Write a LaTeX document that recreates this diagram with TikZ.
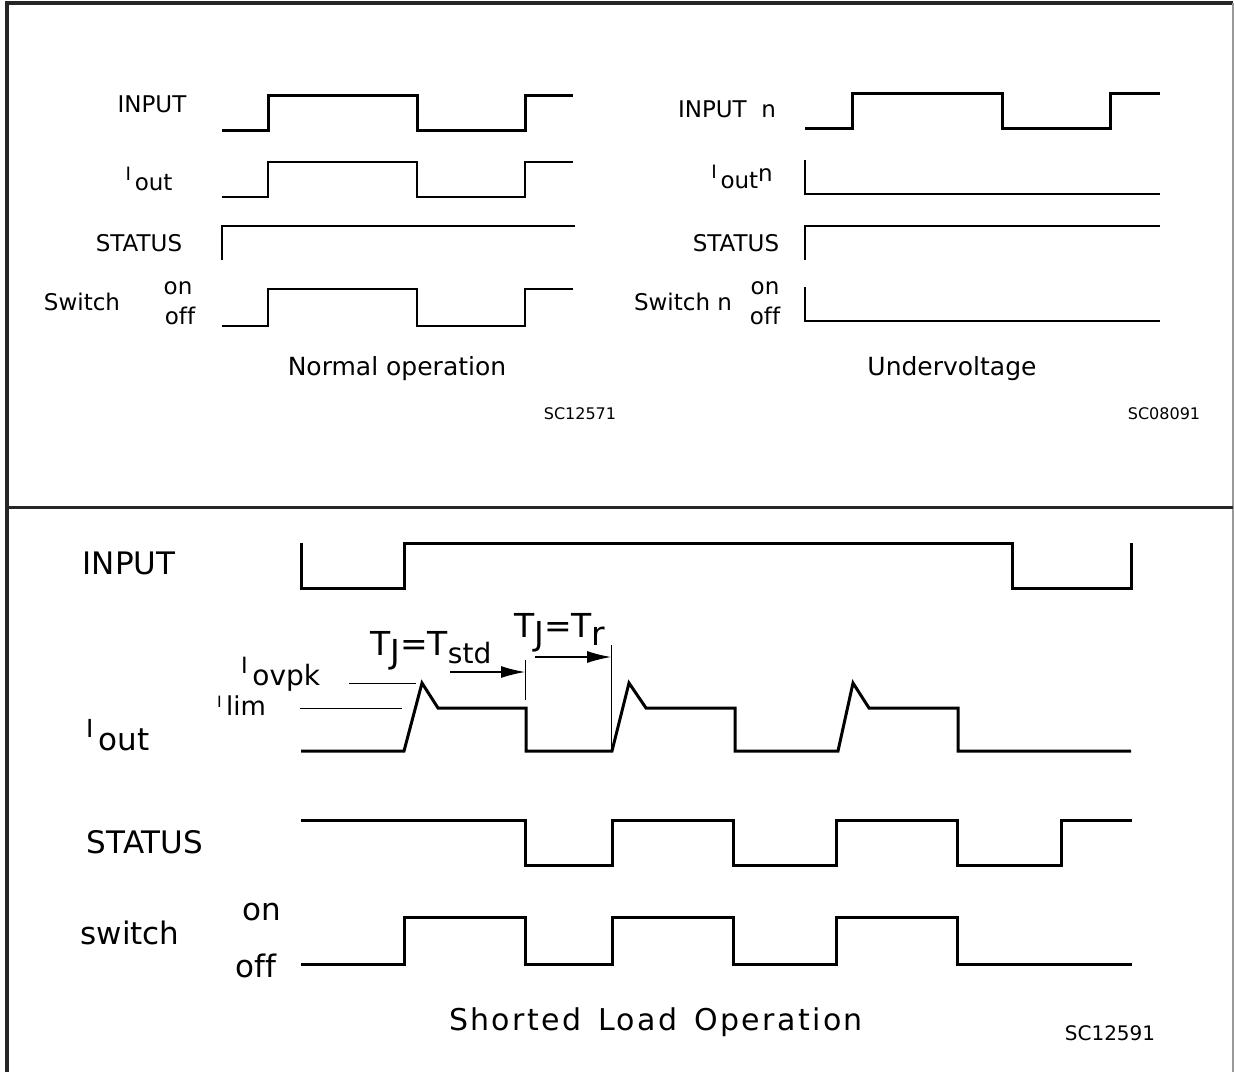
\documentclass[tikz,border=0pt]{standalone}
\usepackage{fontspec}
\setmainfont{DejaVu Sans}[Ligatures=NoCommon]
\usetikzlibrary{arrows.meta,positioning}
\tikzset{%
	sig/.style      = {line width=2pt},
	sigbold/.style  = {line width=3pt},
	levelmark/.style= {line width=1pt},
	dimarrow/.style = {line width=1.2pt,-{Latex[length=24pt,width=12pt]}},
	framerule/.style= {line width=3pt,draw=black!85},
	lbl/.style      = {inner sep=0pt,font=\fontsize{23}{26}\selectfont},
	biglbl/.style   = {inner sep=0pt,font=\fontsize{31}{34}\selectfont},
	caption/.style  = {inner sep=0pt,font=\fontsize{25}{28}\selectfont},
	code/.style     = {inner sep=0pt,font=\fontsize{16}{18}\selectfont},
}
\newcommand{\Ix}[1]{\raisebox{.4em}{\scalebox{.8}{I}}\,#1}
\newcommand{\lowr}[1]{\raisebox{-.26em}{#1}}

\begin{document}
\begin{tikzpicture}[x=1pt,y=-1pt]
		\useasboundingbox (0,0) rectangle (1234,1072);
		% frame
		\draw[framerule,line width=4pt] (7,1072) -- (7,3) -- (1233,3);
		\draw[line width=2pt,black!40] (1233,3) -- (1233,1072);
		\draw[framerule] (7,507) -- (1233,507);
		
		% normal operation
		\foreach \lo/\hi/\w in {130/95/3pt,197/162/2pt,326/289/2pt} \draw[line width=\w] (222,\lo) -- (268,\lo) -- (268,\hi) -- (417,\hi) -- (417,\lo) -- (525,\lo) -- (525,\hi) -- (573,\hi);
		\draw[sig] (222,260) -- (222,226) -- (575,226);
		
		\node[lbl] (inA) at (152,104) {INPUT};
		\node[lbl,anchor=base] (ioA) at (149,190) {\Ix{out}};
		\node[lbl] (stA) at (139,243) {STATUS};
		\node[lbl] (swA) at (82,302) {Switch};
		\node[lbl] (onA) at (178,288) {on};
		\node[lbl] (offA) at (180,316) {off};
		\node[caption] (capA) at (397,369) {Normal operation};
		\node[code] (scA) at (580,414) {SC12571};
		
		% undervoltage
		\draw[sigbold] (805,128) -- (852,128) -- (852,93) -- (1002,93) -- (1002,128) -- (1110,128) -- (1110,93) -- (1160,93);
		\draw[sig] (805,160) -- (805,194) -- (1160,194);
		\draw[sig] (805,260) -- (805,226) -- (1160,226);
		\draw[sig] (805,287) -- (805,321) -- (1160,321);
		
		\node[lbl] (inB) at (727,109) {INPUT\ \ n};
		\node[lbl,anchor=base] (ioB) at (742,188) {\Ix{out}\raisebox{.3em}{n}};
		\node[lbl] (stB) at (736,243) {STATUS};
		\node[lbl] (swB) at (683,302) {Switch n};
		\node[lbl] (onB) at (765,288) {on};
		\node[lbl] (offB) at (765,316) {off};
		\node[caption] (capB) at (952,369) {Undervoltage};
		\node[code] (scB) at (1164,414) {SC08091};
		
		% shorted load
		\draw[sigbold] (301,543) -- (301,588) -- (404,588) -- (404,543) -- (1012,543) -- (1012,588) -- (1131,588) -- (1131,543);
		\draw[sigbold] (301,751) -- (404,751) -- (422,683) -- (438,708) -- (526,708) -- (526,751) -- (612,751) -- (629,683) -- (646,708) -- (735,708) -- (735,751) -- (838,751) -- (853,683) -- (869,708) -- (958,708) -- (958,751) -- (1131,751);
		\draw[sigbold] (301,820) -- (525,820) -- (525,865) -- (612,865) -- (612,820) -- (733,820) -- (733,865) -- (836,865) -- (836,820) -- (957,820) -- (957,865) -- (1061,865) -- (1061,820) -- (1132,820);
		\draw[sigbold] (301,964) -- (404,964) -- (404,917) -- (525,917) -- (525,964) -- (612,964) -- (612,917) -- (733,917) -- (733,964) -- (836,964) -- (836,917) -- (957,917) -- (957,964) -- (1132,964);
		
		\draw[levelmark] (349,683) -- (416,683);
		\draw[levelmark] (300,708) -- (402,708);
		
		\coordinate (std) at (525,672);
		\coordinate (tr) at (611,657);
		\draw[levelmark] (525,660) -- (525,700);
		\draw[levelmark] (611,645) -- (611,751);
		\draw[dimarrow] (450,672) -- (std);
		\draw[dimarrow] (535,657) -- (tr);
		
		\node[biglbl] (inC) at (129,563) {INPUT};
		\node[biglbl,anchor=base west] (ioC) at (86,750) {\Ix{out}};
		\node[inner sep=0pt,font=\fontsize{28}{30}\selectfont,anchor=base west] (pk) at (241,685) {\Ix{ovpk}};
		\node[inner sep=0pt,font=\fontsize{26}{28}\selectfont,anchor=base west] (lim) at (217,715) {\raisebox{.3em}{\scalebox{.6}{I}}\,lim};
		\node[biglbl,anchor=base west,font=\fontsize{33}{36}\selectfont] (tstd) at (370,655) {T\lowr{J}=T\lowr{\scalebox{.85}{std}}};
		\node[biglbl,anchor=base west,font=\fontsize{33}{36}\selectfont] (ttr) at (514,637) {T\lowr{J}=T\lowr{r}};
		\node[biglbl] (stC) at (145,842) {STATUS};
		\node[biglbl] (swC) at (130,933) {switch};
		\node[biglbl] (onC) at (262,912) {on};
		\node[biglbl] (offC) at (256,966) {off};
		\node[inner sep=0pt,font=\fontsize{30}{32}\selectfont\addfontfeature{LetterSpace=8}] (capC) at (656,1022) {Shorted\ \,Load\ \,Operation};
		\node[inner sep=0pt,font=\fontsize{20}{22}\selectfont] (scC) at (1110,1033) {SC12591};
		
\end{tikzpicture}
\end{document}
